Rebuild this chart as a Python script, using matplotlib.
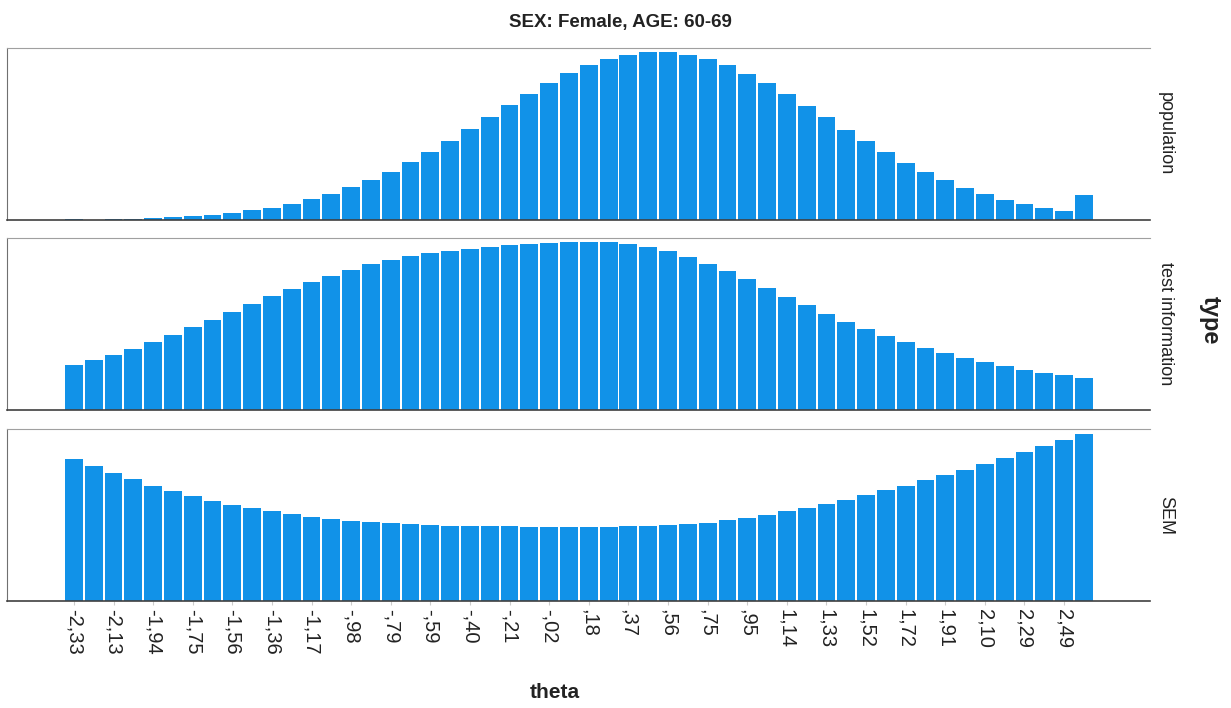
import numpy as np
import matplotlib.pyplot as plt

plt.rcParams['font.family'] = ['Liberation Sans', 'DejaVu Sans']

# theta labels, one on every second bar
theta_labels = ['-2,33', '-2,13', '-1,94', '-1,75', '-1,56', '-1,36', '-1,17',
                '-,98', '-,79', '-,59', '-,40', '-,21', '-,02', ',18', ',37',
                ',56', ',75', ',95', '1,14', '1,33', '1,52', '1,72', '1,91',
                '2,10', '2,29', '2,49']

population = [0.03, 0.015, 0.02, 0.04, 0.06, 0.08, 0.11, 0.16, 0.22, 0.29,
              0.37, 0.48, 0.62, 0.79, 0.99, 1.20, 1.46, 1.74, 2.05, 2.39,
              2.73, 3.10, 3.46, 3.80, 4.13, 4.42, 4.67, 4.85, 4.98, 5.06,
              5.06, 4.98, 4.85, 4.67, 4.41, 4.12, 3.79, 3.44, 3.09, 2.72,
              2.37, 2.04, 1.73, 1.44, 1.19, 0.97, 0.77, 0.61, 0.47, 0.36,
              0.28, 0.76]

test_information = [5.36, 5.96, 6.64, 7.36, 8.16, 9.04, 9.92, 10.84, 11.72, 12.72,
                    13.64, 14.52, 15.40, 16.12, 16.84, 17.48, 18.00, 18.44, 18.80, 19.12,
                    19.36, 19.56, 19.76, 19.92, 20.00, 20.12, 20.16, 20.12, 19.88, 19.52,
                    19.04, 18.36, 17.56, 16.64, 15.68, 14.68, 13.60, 12.56, 11.52, 10.56,
                    9.72, 8.88, 8.12, 7.44, 6.80, 6.20, 5.72, 5.28, 4.84, 4.44,
                    4.16, 3.80]

sem = [0.429, 0.406, 0.386, 0.366, 0.347, 0.331, 0.316, 0.302, 0.289, 0.279,
       0.270, 0.261, 0.254, 0.248, 0.242, 0.237, 0.234, 0.231, 0.229, 0.227,
       0.226, 0.225, 0.225, 0.224, 0.224, 0.224, 0.224, 0.224, 0.225, 0.226,
       0.228, 0.231, 0.236, 0.243, 0.251, 0.258, 0.270, 0.281, 0.292, 0.305,
       0.318, 0.333, 0.347, 0.363, 0.379, 0.396, 0.413, 0.430, 0.448, 0.466,
       0.485, 0.504]

panels = [('population', population, 5.18),
          ('test information', test_information, 20.64),
          ('SEM', sem, 0.518)]

bar_color = '#1192e8'
x = np.arange(len(population))

fig = plt.figure(figsize=(12.31, 7.08), dpi=100)
left, width = 7 / 1231, (1150 - 7) / 1231
tops = [48, 238, 429]
h = 172

axes = []
for (name, vals, ymax), top in zip(panels, tops):
    ax = fig.add_axes([left, 1 - (top + h) / 708, width, h / 708])
    ax.bar(x, vals, width=0.9, color=bar_color, linewidth=0)
    ax.set_xlim(-3.38, 54.34)
    ax.set_ylim(0, ymax)
    ax.set_yticks([])
    ax.spines['right'].set_visible(False)
    ax.spines['top'].set_color('#a0a0a0')
    ax.spines['left'].set_color('#707070')
    ax.spines['bottom'].set_color('#404040')
    ax.spines['bottom'].set_linewidth(1.2)
    ax.text(1.006, 0.5, name, transform=ax.transAxes, rotation=270,
            ha='left', va='center', fontsize=13, color='#222222')
    axes.append(ax)

for ax in axes[:2]:
    ax.set_xticks([])

ax = axes[2]
ax.set_xticks(x[::2])
ax.set_xticklabels(theta_labels, rotation=270, fontsize=14.5, color='#222222')
ax.tick_params(axis='x', length=3, color='#cccccc', pad=3)

fig.text(620 / 1231, 1 - 22 / 708, 'SEX: Female, AGE: 60-69', ha='center',
         va='center', fontsize=13.5, fontweight='bold', color='#222222')
fig.text(555 / 1231, 1 - 693 / 708, 'theta', ha='center', va='center',
         fontsize=15, fontweight='bold', color='#222222')
fig.text(1210 / 1231, 1 - 320 / 708, 'type', ha='center', va='center',
         rotation=270, fontsize=17, fontweight='bold', color='#222222')

fig.savefig('out.png', dpi=100)
